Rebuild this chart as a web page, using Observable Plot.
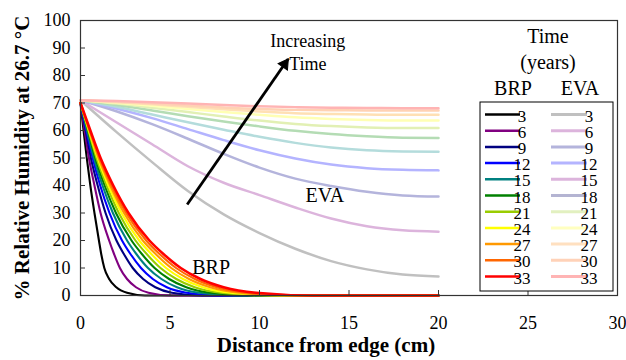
<!DOCTYPE html>
<html>
<head>
<meta charset="utf-8">
<script src="https://cdn.jsdelivr.net/npm/d3@7"></script>
<script src="https://cdn.jsdelivr.net/npm/@observablehq/plot@0.6"></script>
<style>
  html, body { margin: 0; padding: 0; background: white; }
  svg text { font-family: "Liberation Serif", "Times New Roman", serif !important; }
</style>
</head>
<body>
<div id="chart"></div>
<script>
// ---- Data ----
const times = [3, 6, 9, 12, 15, 18, 21, 24, 27, 30, 33];

// BRP: distance (cm) at which each curve crosses these RH levels
const brpLevels = [70, 60, 50, 40, 30, 20, 15, 10, 6, 3, 1, 0];
const brpDepth = [
  [0, 0.17, 0.35, 0.55, 0.78, 1.03, 1.16, 1.33, 1.6, 2.0, 2.6, 3.6],
  [0, 0.23, 0.47, 0.78, 1.12, 1.6, 1.88, 2.2, 2.6, 3.1, 3.8, 5.0],
  [0, 0.29, 0.58, 0.96, 1.4, 2.01, 2.43, 2.92, 3.5, 4.18, 5.1, 6.8],
  [0, 0.33, 0.68, 1.1, 1.62, 2.32, 2.8, 3.38, 4.04, 4.82, 5.91, 7.8],
  [0, 0.37, 0.75, 1.23, 1.81, 2.6, 3.13, 3.77, 4.52, 5.39, 6.6, 8.8],
  [0, 0.41, 0.83, 1.35, 1.98, 2.85, 3.44, 4.14, 4.95, 5.91, 7.24, 9.6],
  [0, 0.44, 0.89, 1.46, 2.14, 3.07, 3.71, 4.47, 5.35, 6.38, 7.82, 10.4],
  [0, 0.47, 0.96, 1.56, 2.29, 3.28, 3.97, 4.78, 5.72, 6.82, 8.36, 11.1],
  [0, 0.5, 1.01, 1.66, 2.43, 3.48, 4.21, 5.07, 6.06, 7.24, 8.87, 11.8],
  [0, 0.52, 1.07, 1.74, 2.55, 3.67, 4.43, 5.34, 6.39, 7.62, 9.34, 12.4],
  [0, 0.55, 1.12, 1.83, 2.68, 3.85, 4.65, 5.6, 6.7, 8.0, 9.8, 13.0]
];
const brpEnd = 20;
const brpColors = ["#000000", "#800080", "#000080", "#0000ff", "#008080", "#008000",
                   "#99cc00", "#ffff00", "#ff9900", "#ff6600", "#ff0000"];

// EVA: RH at these distances
const evaDistance = [0, 2, 4, 6, 8, 10, 12, 14, 16, 18, 20];
const evaRH = [
  [71, 59.5, 48.5, 38, 29.5, 22.7, 17, 12.5, 9.5, 7.6, 6.9],
  [71, 63, 55, 47, 41, 36.5, 32, 28, 25.2, 23.7, 23.2],
  [71, 67, 62.3, 57, 51.5, 46.5, 42.5, 39.8, 37.7, 36.4, 36],
  [71, 68, 64.5, 60.5, 56.5, 52.8, 49.8, 47.6, 46.3, 45.7, 45.5],
  [71, 68.6, 65.8, 63, 60.3, 57.7, 55.5, 53.8, 52.8, 52.4, 52.3],
  [71, 69.3, 67.3, 65.2, 63.3, 61.5, 59.9, 58.7, 57.9, 57.4, 57.3],
  [71, 69.8, 68.3, 66.7, 65.1, 63.6, 62.4, 61.6, 61.1, 60.9, 60.9],
  [71, 70.1, 69, 67.8, 66.7, 65.7, 64.8, 64.2, 63.8, 63.6, 63.6],
  [71, 70.3, 69.5, 68.6, 67.7, 66.9, 66.3, 66, 65.8, 65.7, 65.7],
  [71, 70.5, 69.8, 69.1, 68.4, 67.8, 67.5, 67.4, 67.3, 67.3, 67.3],
  [71, 70.7, 70.3, 69.8, 69.3, 68.8, 68.5, 68.3, 68.2, 68.1, 68.1]
];
const evaColors = ["#c0c0c0", "#dcb4dc", "#b4b4dc", "#b4b4ff", "#b4dcdc", "#b4dcb4",
                   "#e2f0b4", "#ffffb4", "#ffe0b4", "#ffd2b4", "#ffb4b4"];
const evaLegendColors = ["#c0c0c0", "#dcb4dc", "#b4b4dc", "#b4b4ff", "#dcb4dc", "#b4b4d2",
                         "#e2f0c0", "#ffffc0", "#ffe0c0", "#ffd2b8", "#ffb4b4"];

const xTicks = [0, 5, 10, 15, 20, 25, 30];
const yTicks = [0, 10, 20, 30, 40, 50, 60, 70, 80, 90, 100];

const annotations = [
  {x: 12.7, y: 92.4, text: "Increasing", size: 18},
  {x: 12.7, y: 84, text: "Time", size: 18},
  {x: 13.65, y: 36.4, text: "EVA", size: 20},
  {x: 7.3, y: 10.2, text: "BRP", size: 20}
];
const arrowData = [{x1: 5.96, y1: 33.1, x2: 11.6, y2: 86}];

const xLabel = "Distance from edge (cm)";
const yLabel = "% Relative Humidity at 26.7 °C";

// ---- Build tables ----
const brpSeries = brpDepth.map((dep, i) =>
  dep.map((d, j) => ({x: d, y: brpLevels[j]})).concat([{x: brpEnd, y: 0}]));
const evaSeries = evaRH.map(vals => vals.map((v, j) => ({x: evaDistance[j], y: v})));

const font = "Liberation Serif";

const marks = [];
evaSeries.forEach((s, i) => marks.push(
  Plot.line(s, {x: "x", y: "y", stroke: evaColors[i], strokeWidth: 2.5, curve: "monotone-x"})));
brpSeries.forEach((s, i) => marks.push(
  Plot.line(s, {x: "x", y: "y", stroke: brpColors[i], strokeWidth: i === 10 ? 2.6 : 2.1, curve: "monotone-x"})));
// arrow: shaft + filled triangular head
marks.push(Plot.link(arrowData, {x1: "x1", y1: "y1", x2: "x2", y2: "y2", stroke: "black", strokeWidth: 2.8}));
marks.push(Plot.dot(arrowData, {x: "x2", y: "y2", symbol: "triangle", r: 4.2, fill: "black",
  stroke: "black", strokeWidth: 1, rotate: 34.7, dx: -3.5, dy: 5.1}));
annotations.forEach(a => marks.push(
  Plot.text([a], {x: "x", y: "y", text: "text", fontSize: a.size, fill: "black", fontFamily: font})));
marks.push(Plot.frame({stroke: "#333", strokeWidth: 1.2}));
marks.push(Plot.axisX(xTicks, {tickSize: -5, tickPadding: 26, fontSize: 18, stroke: "#333", fontFamily: font}));
marks.push(Plot.axisY(yTicks, {tickSize: -5, tickPadding: 15, fontSize: 18, stroke: "#333", fontFamily: font}));
marks.push(Plot.text([xLabel], {frameAnchor: "bottom", textAnchor: "middle", lineAnchor: "middle",
  dx: -23, dy: 50, fontWeight: "bold", fontSize: 21, fontFamily: font}));
marks.push(Plot.text([yLabel], {frameAnchor: "left", textAnchor: "middle", lineAnchor: "middle",
  dx: -58, rotate: -90, fontWeight: "bold", fontSize: 21, fontFamily: font}));

const svg = Plot.plot({
  width: 626,
  height: 360,
  marginLeft: 80,
  marginRight: 9,
  marginTop: 20,
  marginBottom: 65,
  x: {domain: [0, 30], label: null},
  y: {domain: [0, 100], label: null},
  style: {fontFamily: font, fontSize: "18px", background: "white", color: "black"},
  marks
});

// ---- Legend ----
const g = d3.select(svg).append("g").style("font-family", font).attr("fill", "black");
const hdr = [
  {t: "Time", x: 548, y: 36}, {t: "(years)", x: 548, y: 62},
  {t: "BRP", x: 513, y: 88}, {t: "EVA", x: 580, y: 88}
];
g.selectAll("text.h").data(hdr).join("text").attr("class", "h")
  .attr("x", d => d.x).attr("y", d => d.y).attr("text-anchor", "middle")
  .attr("dominant-baseline", "central").style("font-size", "20px").text(d => d.t);
g.append("rect").attr("x", 480).attr("y", 102).attr("width", 133).attr("height", 189)
  .attr("fill", "white").attr("stroke", "black").attr("stroke-width", 1);
times.forEach((t, i) => {
  const y = 114.5 + i * 16.2;
  g.append("line").attr("x1", 485).attr("x2", 520).attr("y1", y).attr("y2", y)
    .attr("stroke", brpColors[i]).attr("stroke-width", 2.5);
  g.append("text").attr("x", 522).attr("y", y + 1.5).attr("dominant-baseline", "central")
    .style("font-size", "17px").text(t);
  g.append("line").attr("x1", 551).attr("x2", 587).attr("y1", y).attr("y2", y)
    .attr("stroke", evaLegendColors[i]).attr("stroke-width", 3);
  g.append("text").attr("x", 589).attr("y", y + 1.5).attr("dominant-baseline", "central")
    .style("font-size", "17px").text(t);
});

document.getElementById("chart").appendChild(svg);
</script>
</body>
</html>
